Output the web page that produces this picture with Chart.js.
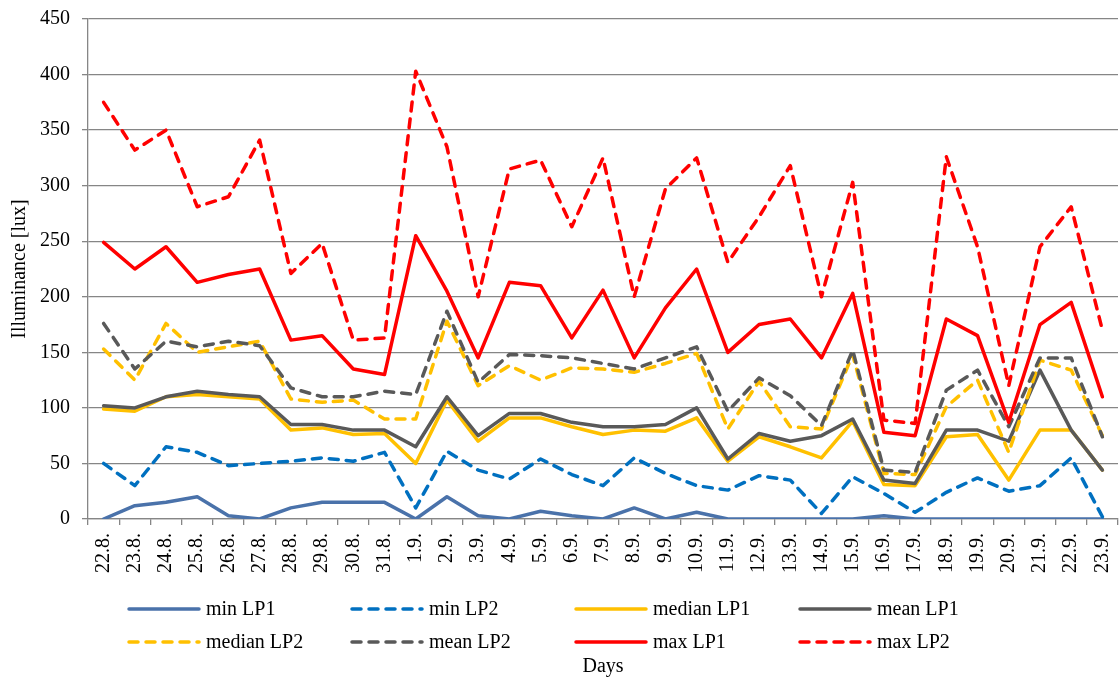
<!DOCTYPE html>
<html>
<head>
<meta charset="utf-8">
<script src="https://cdn.jsdelivr.net/npm/chart.js@4"></script>
<style>
  html, body { margin: 0; padding: 0; background: #fff; }
  #wrap { width: 1119px; height: 679px; position: relative; }
</style>
</head>
<body>
<div id="wrap"><canvas id="chart"></canvas></div>
<script>
  const days = ['22.8.', '23.8.', '24.8.', '25.8.', '26.8.', '27.8.', '28.8.', '29.8.', '30.8.', '31.8.',
    '1.9.', '2.9.', '3.9.', '4.9.', '5.9.', '6.9.', '7.9.', '8.9.', '9.9.', '10.9.', '11.9.', '12.9.',
    '13.9.', '14.9.', '15.9.', '16.9.', '17.9.', '18.9.', '19.9.', '20.9.', '21.9.', '22.9.', '23.9.'];

  const minLP1 = [0, 12, 15, 20, 3, 0, 10, 15, 15, 15, 0, 20, 3, 0, 7, 3, 0, 10, 0, 6, 0, 0, 0, 0, 0, 3, 0, 0, 0, 0, 0, 0, 0];
  const minLP2 = [50, 30, 65, 60, 48, 50, 52, 55, 52, 60, 10, 61, 44, 36, 54, 40, 30, 55, 41, 30, 26, 39, 35, 5, 38, 23, 6, 24, 37, 25, 30, 55, 2];
  const medianLP1 = [99, 97, 110, 112, 110, 108, 80, 82, 76, 77, 50, 107, 70, 91, 91, 83, 76, 80, 79, 91, 52, 74, 65, 55, 88, 31, 30, 74, 76, 35, 80, 80, 44];
  const meanLP1 = [102, 100, 110, 115, 112, 110, 85, 85, 80, 80, 65, 110, 75, 95, 95, 87, 83, 83, 85, 100, 54, 77, 70, 75, 90, 35, 32, 80, 80, 70, 134, 80, 44];
  const medianLP2 = [153, 125, 176, 150, 155, 160, 108, 105, 107, 90, 90, 178, 120, 138, 125, 136, 135, 132, 140, 149, 81, 124, 83, 81, 148, 41, 40, 101, 125, 60, 143, 134, 75];
  const meanLP2 = [176, 135, 160, 155, 160, 156, 118, 110, 110, 115, 112, 187, 123, 148, 147, 145, 140, 135, 145, 155, 97, 127, 111, 84, 152, 44, 42, 116, 134, 83, 145, 145, 74];
  const maxLP1 = [249, 225, 245, 213, 220, 225, 161, 165, 135, 130, 255, 205, 145, 213, 210, 163, 206, 145, 190, 225, 150, 175, 180, 145, 203, 78, 75, 180, 165, 87, 175, 195, 110];
  const maxLP2 = [375, 332, 350, 281, 290, 341, 221, 248, 161, 163, 403, 335, 200, 315, 323, 263, 325, 200, 297, 325, 231, 272, 318, 200, 303, 89, 86, 326, 245, 120, 245, 281, 170];

  const fontFamily = '"Liberation Serif", "Times New Roman", serif';
  const dash = [9, 8];

  // helper so every series looks the same apart from colour / dash
  function serie(label, data, color, dashed, i) {
    return {
      label: label,
      data: data,
      borderColor: color,
      backgroundColor: color,
      borderWidth: 3.5,
      borderDash: dashed ? dash : [],
      borderCapStyle: 'round',
      borderJoinStyle: 'round',
      pointRadius: 0,
      tension: 0,
      fill: false,
      order: 10 - i // later series on top, like in Excel
    };
  }

  // legend in 4 aligned columns + 2 rows, drawn under the tick labels
  const bottomLegend = {
    id: 'bottomLegend',
    afterDraw(chart) {
      const ctx = chart.ctx;
      const colX = [129, 352, 576, 800];
      const rowY = [609, 642];
      ctx.save();
      ctx.font = '20px ' + fontFamily;
      ctx.textBaseline = 'middle';
      chart.data.datasets.forEach((ds, i) => {
        const x = colX[i % 4];
        const y = rowY[Math.floor(i / 4)];
        ctx.strokeStyle = ds.borderColor;
        ctx.lineWidth = ds.borderWidth;
        ctx.lineCap = 'round';
        ctx.setLineDash(ds.borderDash);
        ctx.beginPath();
        ctx.moveTo(x, y);
        ctx.lineTo(x + 70, y);
        ctx.stroke();
        ctx.setLineDash([]);
        ctx.fillStyle = '#000';
        ctx.fillText(ds.label, x + 77, y + 1);
      });
      ctx.restore();
    }
  };

  const ctx = document.getElementById('chart').getContext('2d');
  new Chart(ctx, {
    type: 'line',
    data: {
      labels: days,
      datasets: [
        serie('min LP1', minLP1, '#4a72aa', false, 0),
        serie('min LP2', minLP2, '#0070c0', true, 1),
        serie('median LP1', medianLP1, '#ffc000', false, 2),
        serie('mean LP1', meanLP1, '#595959', false, 3),
        serie('median LP2', medianLP2, '#ffc000', true, 4),
        serie('mean LP2', meanLP2, '#595959', true, 5),
        serie('max LP1', maxLP1, '#ff0000', false, 6),
        serie('max LP2', maxLP2, '#ff0000', true, 7)
      ]
    },
    options: {
      responsive: true,
      maintainAspectRatio: false,
      animation: false,
      layout: { padding: { left: 0, right: 1, top: 19, bottom: 0 } },
      plugins: {
        legend: { display: false },
        tooltip: { enabled: false }
      },
      scales: {
        x: {
          offset: true,
          grid: { drawOnChartArea: false, drawTicks: true, tickLength: 6, color: '#868686', lineWidth: 1.3, offset: true },
          border: { color: '#868686', width: 1.3 },
          ticks: {
            minRotation: 90, maxRotation: 90, autoSkip: false, padding: 8,
            color: '#000', font: { family: fontFamily, size: 20 }
          },
          title: {
            display: true, text: 'Days', color: '#000',
            font: { family: fontFamily, size: 20 }, padding: { top: 0, bottom: 0 }
          },
          afterFit(scale) {
            scale.height = 160;
            scale.paddingLeft = 0;
            scale.paddingRight = 0;
          }
        },
        y: {
          min: 0,
          max: 450,
          grid: { color: '#868686', lineWidth: 1.3, tickLength: 6 },
          border: { color: '#868686', width: 1.3 },
          ticks: { stepSize: 50, padding: 12, color: '#000', font: { family: fontFamily, size: 20 } },
          title: {
            display: true, text: 'Illuminance [lux]', color: '#000',
            font: { family: fontFamily, size: 20 }, padding: { top: 8, bottom: 0 }
          },
          afterFit(scale) {
            scale.width = 88;
            scale.paddingTop = 0;
            scale.paddingBottom = 0;
          }
        }
      }
    },
    plugins: [bottomLegend]
  });
</script>
</body>
</html>
